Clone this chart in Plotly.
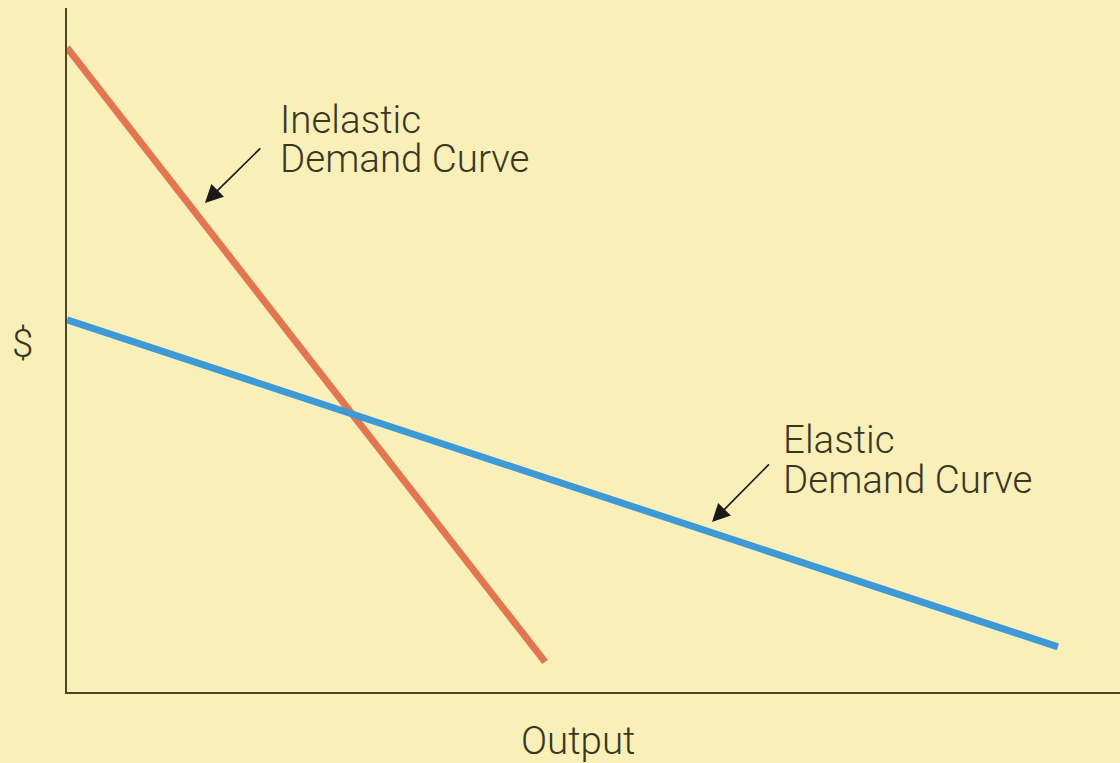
import plotly.graph_objects as go

# Demand curves (output vs. price, arbitrary units)
inelastic_output = [0.0, 45.4]
inelastic_price = [94.2, 4.4]
elastic_output = [0.0, 94.1]
elastic_price = [54.4, 6.6]

label_inelastic = ["Inelastic", "Demand Curve"]
label_elastic = ["Elastic", "Demand Curve"]

BG = "#f9efb9"
INK = "#3a3620"
FONT = dict(family="Roboto", size=38.5, color=INK, weight=300)

fig = go.Figure()
fig.add_trace(go.Scatter(x=inelastic_output, y=inelastic_price, mode="lines",
                         line=dict(color="#e2764f", width=7), hoverinfo="skip"))
fig.add_trace(go.Scatter(x=elastic_output, y=elastic_price, mode="lines",
                         line=dict(color="#3d9ad6", width=7), hoverinfo="skip"))

annotations = []
# Curve labels, one line per annotation with a compact box so lines sit tight
LABEL_BOX = dict(showarrow=False, xanchor="left", yanchor="middle", font=FONT,
                 height=34, borderpad=0)
for text, y in zip(label_inelastic, [83.8, 78.0]):
    annotations.append(dict(x=20.1, y=y, text=text, **LABEL_BOX))
for text, y in zip(label_elastic, [37.0, 31.2]):
    annotations.append(dict(x=67.9, y=y, text=text, **LABEL_BOX))
# Pointer arrows
for tip, tail in [((13.1, 71.5), (18.5, 79.7)), ((61.25, 24.85), (66.8, 33.5))]:
    annotations.append(dict(x=tip[0], y=tip[1], ax=tail[0], ay=tail[1], axref="x", ayref="y",
                            text="", showarrow=True, arrowhead=2, arrowsize=2.1,
                            arrowwidth=1.7, arrowcolor="#1a1a1a"))
# Axis labels
annotations.append(dict(x=-0.0418, y=0.5102, xref="paper", yref="paper", text="$",
                        xanchor="center", yanchor="middle", showarrow=False, font=FONT))
annotations.append(dict(x=0.4853, y=-0.0716, xref="paper", yref="paper", text="Output",
                        xanchor="center", yanchor="middle", showarrow=False, font=FONT))

fig.update_layout(
    width=1120, height=763,
    margin=dict(l=67, r=0, t=8, b=71),
    paper_bgcolor=BG, plot_bgcolor=BG,
    showlegend=False,
    annotations=annotations,
    xaxis=dict(range=[0, 100], showgrid=False, zeroline=False, showticklabels=False,
               ticks="", showline=True, linecolor="#4d4528", linewidth=2),
    yaxis=dict(range=[0, 100], showgrid=False, zeroline=False, showticklabels=False,
               ticks="", showline=True, linecolor="#4d4528", linewidth=2),
)

fig.write_html("out.html")
